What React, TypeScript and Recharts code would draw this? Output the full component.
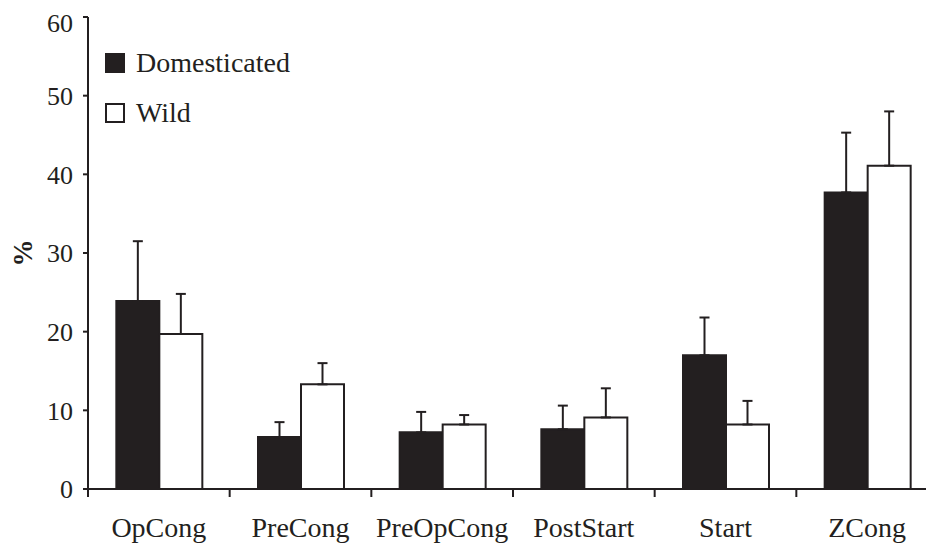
import React from 'react';
import { BarChart, Bar, XAxis, YAxis, ErrorBar, Legend } from 'recharts';

const categories = ['OpCong', 'PreCong', 'PreOpCong', 'PostStart', 'Start', 'ZCong'];
const domesticated = [23.9, 6.6, 7.2, 7.6, 17.0, 37.7];
const domesticatedErr = [7.6, 1.9, 2.6, 3.0, 4.8, 7.6];
const wild = [19.7, 13.3, 8.2, 9.1, 8.2, 41.1];
const wildErr = [5.1, 2.7, 1.2, 3.7, 3.0, 6.9];
const yTicks = [0, 10, 20, 30, 40, 50, 60];

const INK = '#231f20';
const SERIF = '"Liberation Serif", "Times New Roman", serif';

const data = categories.map((name, i) => ({
  name,
  domesticated: domesticated[i],
  domErr: [0, domesticatedErr[i]],
  wild: wild[i],
  wildErr: [0, wildErr[i]],
}));

const CategoryTick = (props: any) => {
  const { x, y, payload, width, visibleTicksCount } = props;
  const band = visibleTicksCount ? width / visibleTicksCount : (payload?.offset || 0) * 2;
  const left = x - band / 2;
  return (
    <g>
      <line x1={left} y1={y} x2={left} y2={y + 8} stroke={INK} strokeWidth={2} />
      <text x={x} y={y + 48} textAnchor="middle" fontFamily={SERIF} fontSize={28} fill={INK}>
        {payload.value}
      </text>
    </g>
  );
};

const LegendBox = (props: any) => {
  const items = props.payload || [];
  return (
    <div style={{ fontFamily: SERIF, fontSize: 28, color: INK }}>
      {items.map((it: any, i: number) => (
        <div key={i} style={{ display: 'flex', alignItems: 'center', height: 50 }}>
          <span
            style={{
              display: 'inline-block', width: 16, height: 16, marginRight: 11,
              background: it.dataKey === 'wild' ? '#fff' : INK,
              border: `2px solid ${INK}`,
            }}
          />
          <span>{it.value}</span>
        </div>
      ))}
    </div>
  );
};

const PercentLabel = (props: any) => {
  const vb = props.viewBox || {};
  const cx = (vb.x || 0) + 15;
  const cy = (vb.y || 0) + (vb.height || 0) / 2;
  return (
    <text x={cx} y={cy} transform={`rotate(-90 ${cx} ${cy})`} textAnchor="middle" dominantBaseline="central"
      fontFamily={SERIF} fontSize={27} fontWeight="bold" fill={INK}>%</text>
  );
};

export default function App() {
  return (
    <div style={{ width: 926, height: 536, overflow: 'hidden' }}>
      <BarChart width={930} height={536} data={data} margin={{ top: 9, right: 0, left: 0, bottom: 0 }}
        barCategoryGap="20%" barGap={0}>
        <XAxis dataKey="name" height={55} tickSize={0} tickMargin={0} tickLine={false}
          axisLine={{ stroke: INK, strokeWidth: 2 }} tick={<CategoryTick />} interval={0} />
        <YAxis domain={[0, 60]} ticks={yTicks} width={80} tickSize={5} tickMargin={10}
          axisLine={{ stroke: INK, strokeWidth: 2 }} tickLine={{ stroke: INK, strokeWidth: 2 }}
          tick={{ fontFamily: SERIF, fontSize: 26, fill: INK }} label={<PercentLabel />} />
        <Legend content={<LegendBox />} layout="horizontal" align="center" verticalAlign="middle"
          wrapperStyle={{ position: 'absolute', left: 97, top: 30, width: 'auto' }} />
        <Bar dataKey="domesticated" name="Domesticated" fill={INK} stroke={INK} strokeWidth={2} isAnimationActive={false}>
          <ErrorBar dataKey="domErr" direction="y" width={5} stroke={INK} strokeWidth={2} />
        </Bar>
        <Bar dataKey="wild" name="Wild" fill="#fff" stroke={INK} strokeWidth={2} isAnimationActive={false}>
          <ErrorBar dataKey="wildErr" direction="y" width={5} stroke={INK} strokeWidth={2} />
        </Bar>
      </BarChart>
    </div>
  );
}
